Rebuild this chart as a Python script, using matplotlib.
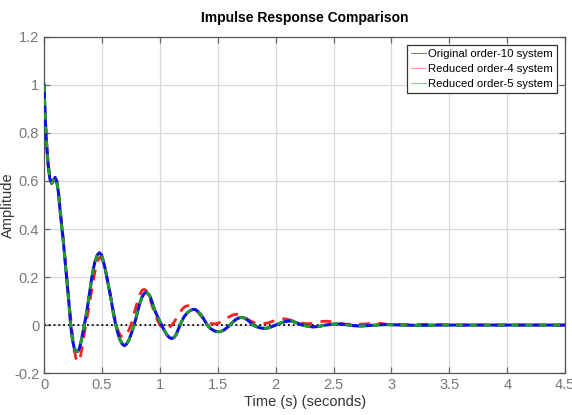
import matplotlib
matplotlib.use("Agg")
import matplotlib.pyplot as plt
from matplotlib.lines import Line2D

# ---- data ----
t_orig = [0, 0.005, 0.01, 0.02, 0.035, 0.05, 0.065, 0.08, 0.095, 0.11, 0.125, 0.14, 0.155,
          0.17, 0.185, 0.2, 0.215, 0.23, 0.245, 0.26, 0.274, 0.288, 0.30, 0.315, 0.33, 0.348,
          0.365, 0.38, 0.395, 0.41, 0.425, 0.44, 0.46, 0.478, 0.495, 0.51, 0.53, 0.55, 0.568,
          0.585, 0.60, 0.62, 0.637, 0.655, 0.675, 0.694, 0.714, 0.735, 0.756, 0.777, 0.795,
          0.81, 0.828, 0.845, 0.863, 0.881, 0.898, 0.915, 0.932, 0.95, 0.968, 0.985, 1.016,
          1.04, 1.06, 1.082, 1.103, 1.122, 1.14, 1.174, 1.19, 1.21, 1.235, 1.26, 1.283, 1.307,
          1.333, 1.36, 1.385, 1.41, 1.432, 1.455, 1.48, 1.505, 1.53, 1.555, 1.58, 1.606, 1.63,
          1.655, 1.68, 1.707, 1.73, 1.755, 1.78, 1.805, 1.83, 1.855, 1.88, 1.908, 1.935, 1.96,
          1.985, 2.01, 2.04, 2.07, 2.097, 2.124, 2.15, 2.18, 2.205, 2.23, 2.28, 2.326, 2.38,
          2.43, 2.48, 2.53, 2.58, 2.63, 2.685, 2.74, 2.8, 2.85, 2.9, 2.95, 3.02, 3.1, 3.2,
          3.3, 3.4, 3.5, 4.5]
y_orig = [1.0, 0.93, 0.87, 0.77, 0.67, 0.61, 0.59, 0.60, 0.615, 0.60, 0.55, 0.47, 0.40,
          0.33, 0.25, 0.17, 0.09, 0.0, -0.06, -0.095, -0.108, -0.111, -0.104, -0.08, -0.045, 0.0,
          0.045, 0.09, 0.14, 0.19, 0.232, 0.265, 0.292, 0.301, 0.294, 0.27, 0.23, 0.18, 0.135,
          0.09, 0.045, 0.0, -0.033, -0.06, -0.079, -0.086, -0.078, -0.06, -0.032, 0.0, 0.03,
          0.06, 0.092, 0.115, 0.131, 0.136, 0.131, 0.12, 0.097, 0.07, 0.048, 0.03, 0.0,
          -0.024, -0.04, -0.052, -0.056, -0.052, -0.04, 0.0, 0.017, 0.035, 0.05, 0.06, 0.065, 0.065,
          0.055, 0.04, 0.02, 0.0, -0.012, -0.02, -0.026, -0.028, -0.026, -0.02, -0.011, 0.0, 0.012,
          0.023, 0.029, 0.032, 0.029, 0.022, 0.012, 0.0, -0.006, -0.01, -0.013, -0.014, -0.012, -0.008,
          -0.003, 0.002, 0.008, 0.013, 0.016, 0.017, 0.015, 0.01, 0.005, 0.0, -0.005, -0.008, -0.005,
          0.0, 0.003, 0.005, 0.003, 0.0, -0.003, -0.004, -0.002, 0.0, 0.001, 0.002, 0.001, 0.0, -0.001,
          -0.001, 0.0, 0.0, 0.0]

t_red4 = [0, 0.005, 0.01, 0.02, 0.035, 0.05, 0.065, 0.08, 0.095, 0.11, 0.125, 0.14, 0.155,
          0.17, 0.185, 0.2, 0.215, 0.23, 0.245, 0.26, 0.275, 0.286, 0.296, 0.306, 0.315, 0.325,
          0.335, 0.36, 0.375, 0.39, 0.405, 0.42, 0.435, 0.45, 0.467, 0.484, 0.502, 0.52, 0.54,
          0.56, 0.575, 0.59, 0.615, 0.64, 0.662, 0.685, 0.703, 0.72, 0.75, 0.77, 0.79, 0.81,
          0.83, 0.847, 0.864, 0.882, 0.9, 0.92, 0.94, 0.96, 0.98, 1.0, 1.02, 1.04, 1.06,
          1.08, 1.1, 1.12, 1.145, 1.17, 1.195, 1.22, 1.246, 1.273, 1.3, 1.33, 1.36, 1.385,
          1.41, 1.443, 1.477, 1.51, 1.54, 1.57, 1.6, 1.63, 1.658, 1.69, 1.72, 1.755, 1.79,
          1.83, 1.865, 1.9, 1.94, 1.97, 2.0, 2.03, 2.06, 2.095, 2.13, 2.175, 2.22, 2.26, 2.3,
          2.335, 2.37, 2.4, 2.43, 2.465, 2.5, 2.55, 2.6, 2.65, 2.7, 2.78, 2.85, 2.9, 2.95,
          3.02, 3.1, 3.2, 3.3, 3.4, 3.5, 4.5]
y_red4 = [1.0, 0.92, 0.86, 0.76, 0.67, 0.62, 0.60, 0.605, 0.61, 0.595, 0.55, 0.48, 0.41,
          0.34, 0.26, 0.18, 0.10, 0.03, -0.04, -0.10, -0.138, -0.15, -0.153, -0.148, -0.13, -0.103,
          -0.07, 0.0, 0.04, 0.08, 0.125, 0.17, 0.212, 0.245, 0.272, 0.282, 0.275, 0.25, 0.205,
          0.16, 0.12, 0.08, 0.02, -0.025, -0.045, -0.051, -0.046, -0.035, 0.0, 0.035, 0.07, 0.103,
          0.13, 0.145, 0.149, 0.144, 0.13, 0.103, 0.07, 0.042, 0.02, 0.0, -0.011, -0.015, -0.015,
          -0.01, -0.001, 0.01, 0.03, 0.05, 0.067, 0.078, 0.081, 0.079, 0.07, 0.053, 0.035, 0.022,
          0.012, 0.006, 0.005, 0.009, 0.015, 0.025, 0.035, 0.042, 0.045, 0.043, 0.035, 0.025, 0.015,
          0.008, 0.005, 0.006, 0.01, 0.015, 0.02, 0.024, 0.026, 0.025, 0.02, 0.014, 0.008, 0.006, 0.006,
          0.008, 0.012, 0.015, 0.016, 0.015, 0.012, 0.008, 0.004, 0.003, 0.003, 0.005, 0.008, 0.007, 0.004,
          0.002, 0.001, 0.002, 0.003, 0.002, 0.0, 0.0]

t_red5 = list(t_orig)
y_red5 = list(y_orig)

labels = ["Original order-10 system", "Reduced order-4 system", "Reduced order-5 system"]
x_ticks = [0, 0.5, 1, 1.5, 2, 2.5, 3, 3.5, 4, 4.5]
x_tick_labels = ["0", "0.5", "1", "1.5", "2", "2.5", "3", "3.5", "4", "4.5"]
y_ticks = [-0.2, 0, 0.2, 0.4, 0.6, 0.8, 1.0, 1.2]
y_tick_labels = ["-0.2", "0", "0.2", "0.4", "0.6", "0.8", "1", "1.2"]

plt.rcParams["font.family"] = ["Liberation Sans", "DejaVu Sans"]

fig = plt.figure(figsize=(5.72, 4.15), dpi=100)
ax = fig.add_axes([0.077, 0.101, 0.911, 0.810])

ax.plot([0, 4.5], [0, 0], color="black", linestyle=":", linewidth=1.3, zorder=1)
ax.plot(t_orig, y_orig, color="#1010e0", linewidth=2.2, zorder=3)
ax.plot(t_red4, y_red4, color="#ff2020", linewidth=2.0, linestyle=(0, (4, 3)), zorder=2)
ax.plot(t_red5, y_red5, color="#20a020", linewidth=2.0, linestyle=(0, (2.5, 2.5)), zorder=4)

ax.set_xlim(0, 4.5)
ax.set_ylim(-0.2, 1.2)
ax.set_xticks(x_ticks)
ax.set_xticklabels(x_tick_labels)
ax.set_yticks(y_ticks)
ax.set_yticklabels(y_tick_labels)
ax.grid(True, color="#d8d8d8", linewidth=0.9)
ax.set_axisbelow(True)
ax.tick_params(direction="in", top=True, right=True, length=4, width=0.9,
               colors="#666666", labelsize=10.5, labelcolor="#777777")
for s in ax.spines.values():
    s.set_color("#555555")
    s.set_linewidth(0.9)

ax.set_title("Impulse Response Comparison", fontsize=10, fontweight="bold", pad=11)
ax.set_xlabel("Time (s) (seconds)", fontsize=10.5, labelpad=2, color="#333333")
ax.set_ylabel("Amplitude", fontsize=10.5, color="#333333")
ax.yaxis.set_label_coords(-0.056, 0.5)

handles = [Line2D([], [], color="#7070ff", linewidth=0.7),
           Line2D([], [], color="#ff9090", linewidth=0.7),
           Line2D([], [], color="#80d080", linewidth=0.7)]
leg = ax.legend(handles, labels, loc="upper right", fontsize=8.2, frameon=True, fancybox=False,
                edgecolor="#333333", framealpha=1, handlelength=1.3, handletextpad=0.2,
                borderpad=0.35, labelspacing=0.45, borderaxespad=0.7)
leg.get_frame().set_linewidth(0.9)

fig.savefig("out.png", dpi=100)
